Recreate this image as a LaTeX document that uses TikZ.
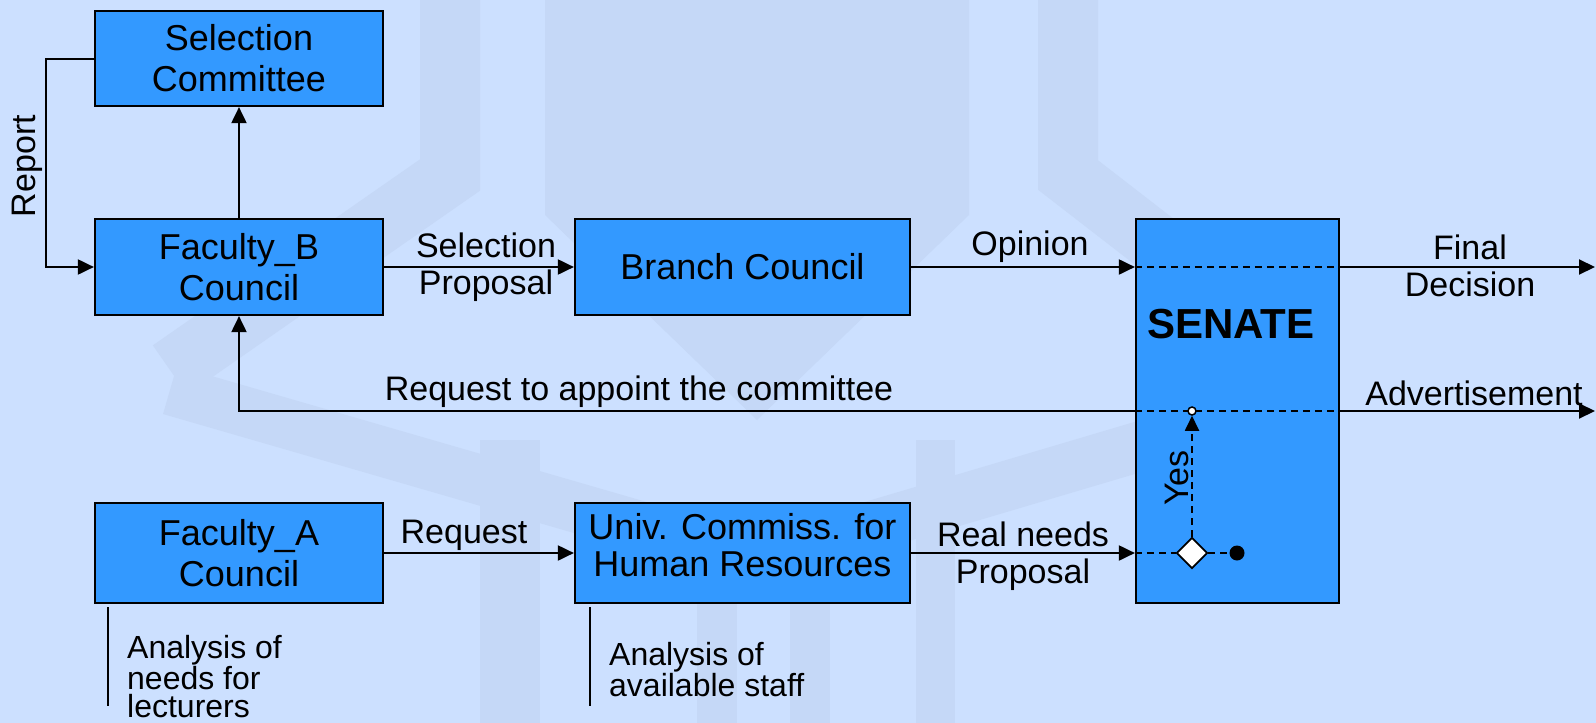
\documentclass[tikz,border=0pt]{standalone}
\usepackage{fontspec}
\setmainfont{Liberation Sans}
\usetikzlibrary{arrows.meta,shapes.geometric,calc}
\definecolor{bg}{RGB}{204,224,255}
\definecolor{wm}{RGB}{197,216,247}
\definecolor{boxblue}{RGB}{51,153,255}
\begin{document}
\begin{tikzpicture}[x=1pt,y=-1pt,
  blk/.style={draw=black,line width=2.2pt,fill=boxblue,inner sep=0pt,align=center,font=\fontsize{36}{41}\selectfont},
  btxt/.style={inner sep=0pt,align=center,font=\fontsize{36}{37}\selectfont},
  lbl/.style={inner sep=0pt,align=center,font=\fontsize{34}{37}\selectfont},
  ann/.style={inner sep=0pt,align=left,font=\fontsize{32}{28.5}\selectfont},
  conn/.style={line width=2pt},
  arr/.style={conn,-{Triangle[length=16pt,width=15pt]}},
  dsh/.style={line width=1.8pt,dash pattern=on 7pt off 5pt},
  wmk/.style={wm,line width=60pt}
]
\useasboundingbox (0,0) rectangle (1596,723);
\fill[bg] (0,0) rectangle (1596,723);
% watermark
\fill[wm] (545,0) -- (969,0) -- (969,215) -- (757,420) -- (545,215) -- cycle;
\draw[wmk] (450,0) -- (450,175) -- (170,370);
\draw[wmk] (1068,0) -- (1068,175) -- (1320,370);
\draw[wm,line width=50pt] (170,390) -- (757,560) -- (1330,390);
\fill[wm] (480,440) rectangle (540,723);
\fill[wm] (697,560) rectangle (737,723);
\fill[wm] (790,560) rectangle (830,723);
\fill[wm] (916,440) rectangle (955,723);

% boxes
\node[blk,minimum width=288pt,minimum height=95pt] (sc) at (239,58.5) {Selection\\Committee};
\node[blk,minimum width=288pt,minimum height=96pt] (fb) at (239,267) {Faculty\_B\\Council};
\node[blk,minimum width=335pt,minimum height=96pt] (bc) at (742.5,267) {Branch Council};
\node[blk,minimum width=203pt,minimum height=384pt] (sen) at (1237.5,411) {};
\node[inner sep=0pt,font=\fontsize{42}{46}\selectfont\bfseries] (sent) at (1231,324) {SENATE};
\node[blk,minimum width=288pt,minimum height=100pt] (fa) at (239,553) {Faculty\_A\\Council};
\node[blk,minimum width=335pt,minimum height=100pt] (uc) at (742.5,553) {};
\node[btxt] (uct) at (742.5,545) {Univ. Commiss. for\\Human Resources};

% connectors
\draw[arr] (fb.north) -- (sc.south);
\draw[arr] (sc.west) -- ++(-48,0) |- (fb.west);
\draw[arr] (fb.east) -- (bc.west);
\draw[arr] (bc.east) -- (bc.east -| sen.west);
\draw[dsh] (bc.east -| sen.west) -- (bc.east -| sen.east);
\coordinate (fdend) at (1595,267);
\draw[arr] (bc.east -| sen.east) -- (fdend);

\draw[arr] (sen.west) -| (fb.south);
\draw[dsh] (sen.west) -- (sen.east);
\coordinate (advend) at (1595,411);
\draw[arr] (sen.east) -- (advend);

\draw[arr] (fa.east) -- (uc.west);
\draw[arr] (uc.east) -- (uc.east -| sen.west);
\node[diamond,draw,fill=white,line width=1.8pt,minimum width=31pt,minimum height=31pt,inner sep=0pt] (dec) at (1192,553) {};
\node[circle,fill=black,minimum size=15pt,inner sep=0pt] (fin) at (1237,553) {};
\draw[dsh] (uc.east -| sen.west) -- (dec.west);
\draw[dsh] (dec.east) -- (fin.west);
\node[circle,draw,fill=white,line width=1.5pt,minimum size=8pt,inner sep=0pt] (jn) at (1192,411) {};
\draw[dsh,-{Triangle[length=15pt,width=14pt]}] (dec.north) -- (jn.south);

\draw[conn] ([xshift=14pt,yshift=-3pt]fa.south west) -- ++(0,99);
\draw[conn] ([xshift=16pt,yshift=-3pt]uc.south west) -- ++(0,99);

% labels
\node[lbl] (lsp) at (486,267) {Selection\\Proposal};
\node[lbl] (lop) at (1030,247) {Opinion};
\node[lbl] (lfd) at (1470,266) {Final\\Decision};
\node[lbl] (ladv) at (1474,393) {Advertisement};
\node[lbl] (lreq2) at (639,392) {Request to appoint the committee};
\node[lbl] (lreq) at (464,535) {Request};
\node[lbl] (lrn) at (1023,556) {Real needs\\Proposal};
\node[lbl,rotate=90] (lyes) at (1177,478) {Yes};
\node[lbl,rotate=90] (lrep) at (27,166) {Report};
\node[ann,anchor=north west] (an1) at (127,635) {Analysis of\\needs for\\lecturers};
\node[ann,anchor=north west] (an2) at (609,642) {Analysis of\\available staff};
\end{tikzpicture}
\end{document}
